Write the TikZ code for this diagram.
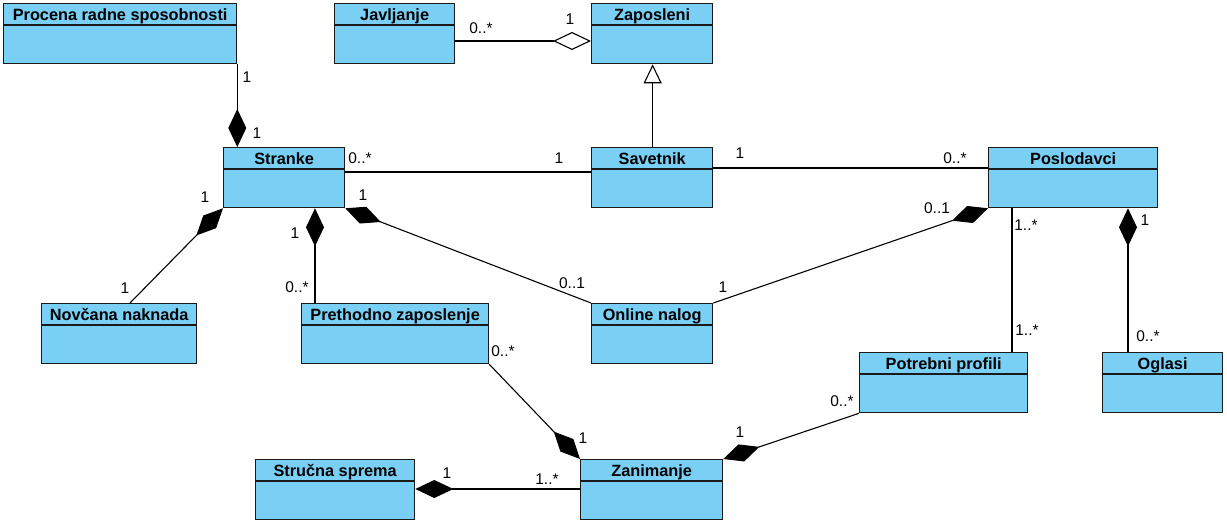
\documentclass[tikz,border=0pt]{standalone}
\usepackage{fontspec}
\setmainfont{Liberation Sans}
\usetikzlibrary{arrows.meta}
\definecolor{clsfill}{HTML}{7ACFF5}
\definecolor{clsdraw}{HTML}{1A1A1A}
\tikzset{
  clsbox/.style={draw=clsdraw, fill=clsfill, line width=1.3pt, inner sep=0pt},
  clsline/.style={draw=clsdraw, line width=1.3pt},
  clsname/.style={font=\fontsize{16.3}{18}\selectfont\bfseries, inner sep=0pt, text height=11.5pt, text depth=0pt},
  mult/.style={font=\fontsize{15.5}{17}\selectfont, inner sep=0pt, text height=11pt, text depth=0pt},
  assoc/.style={draw=black, line width=1.1pt},
  comp/.style={assoc, -{Diamond[length=38pt,width=18pt,line join=miter]}},
  aggr/.style={assoc, -{Diamond[length=38pt,width=18pt,fill=white,line join=miter]}},
  gener/.style={assoc, -{Triangle[length=19pt,width=18pt,fill=white,line join=miter]}},
}
\newcommand{\umlclass}[6]{%
  \node[clsbox, minimum width={#4-#2}, minimum height={#5-#3}, anchor=north west] (#1) at (#2,#3) {};
  \draw[clsline] ([yshift=-22pt]#1.north west) -- ([yshift=-22pt]#1.north east);
  \node[clsname] (#1-name) at ([yshift=-11.5pt]#1.north) {#6};
}
\begin{document}
\begin{tikzpicture}[x=1pt,y=-1pt]
\useasboundingbox[fill=white] (0,0) rectangle (1227,525);

\umlclass{pro}{3}{3}{236}{63}{Procena radne sposobnosti}
\umlclass{jav}{334}{3}{454}{63}{Javljanje}
\umlclass{zap}{591}{3}{712}{63}{Zaposleni}
\umlclass{str}{223}{147}{344}{207}{Stranke}
\umlclass{sav}{591}{147}{712}{207}{Savetnik}
\umlclass{pos}{988}{147}{1157}{207}{Poslodavci}
\umlclass{nov}{41}{303}{196}{363}{Novčana naknada}
\umlclass{pre}{301}{303}{488}{363}{Prethodno zaposlenje}
\umlclass{onl}{591}{303}{712}{363}{Online nalog}
\umlclass{pot}{859}{352}{1027}{412}{Potrebni profili}
\umlclass{ogl}{1102}{352}{1222}{412}{Oglasi}
\umlclass{sps}{255}{459}{414}{519}{Stručna sprema}
\umlclass{zan}{580}{459}{722}{519}{Zanimanje}

% connectors
\draw[comp] (pro.south east) -- (pro.south east |- str.north);
\draw[aggr] ([yshift=-38pt]jav.north east) -- ([yshift=-38pt]zap.north west);
\draw[gener] ([xshift=0.5pt]sav.north) -- ([xshift=0.5pt]zap.south);
\draw[assoc] ([yshift=-25pt]str.north east) -- ([yshift=-25pt]sav.north west);
\draw[assoc] ([yshift=-21pt]sav.north east) -- ([yshift=-21pt]pos.north west);
\coordinate (novtop) at ([xshift=89pt]nov.north west);
\draw[comp] (novtop) -- (str.south west);
\coordinate (pretop) at ([xshift=14pt]pre.north west);
\draw[comp] (pretop) -- (pretop |- str.south);
\draw[comp] (onl.north west) -- (str.south east);
\draw[comp] (onl.north east) -- (pos.south west);
\coordinate (posbot) at ([xshift=24pt]pos.south west);
\draw[assoc] (posbot) -- (posbot |- pot.north);
\coordinate (ogltop) at ([xshift=26pt]ogl.north west);
\draw[comp] (ogltop) -- (ogltop |- pos.south);
\draw[comp] (pre.south east) -- (zan.north west);
\draw[comp] (pot.south west) -- (zan.north east);
\draw[comp] ([yshift=-30pt]zan.north west) -- ([yshift=-30pt]sps.north east);

% multiplicities
\node[mult] (m1) at (247,77) {1};
\node[mult] (m2) at (257,133) {1};
\node[mult] (m3) at (481,28) {0..*};
\node[mult] (m4) at (570,19) {1};
\node[mult] (m5) at (360,158) {0..*};
\node[mult] (m6) at (559,158) {1};
\node[mult] (m7) at (740,153) {1};
\node[mult] (m8) at (955,158) {0..*};
\node[mult] (m9) at (205,197) {1};
\node[mult] (m10) at (125,288) {1};
\node[mult] (m11) at (295,233) {1};
\node[mult] (m12) at (297,287) {0..*};
\node[mult] (m13) at (363,195) {1};
\node[mult] (m14) at (572,283) {0..1};
\node[mult] (m15) at (723,287) {1};
\node[mult] (m16) at (937,208) {0..1};
\node[mult] (m17) at (1026,225) {1..*};
\node[mult] (m18) at (1027,330) {1..*};
\node[mult] (m19) at (1145,220) {1};
\node[mult] (m20) at (1148,336) {0..*};
\node[mult] (m21) at (503,351) {0..*};
\node[mult] (m22) at (583,438) {1};
\node[mult] (m23) at (842,401) {0..*};
\node[mult] (m24) at (740,432) {1};
\node[mult] (m25) at (447,473) {1};
\node[mult] (m26) at (547,479) {1..*};
\end{tikzpicture}
\end{document}
